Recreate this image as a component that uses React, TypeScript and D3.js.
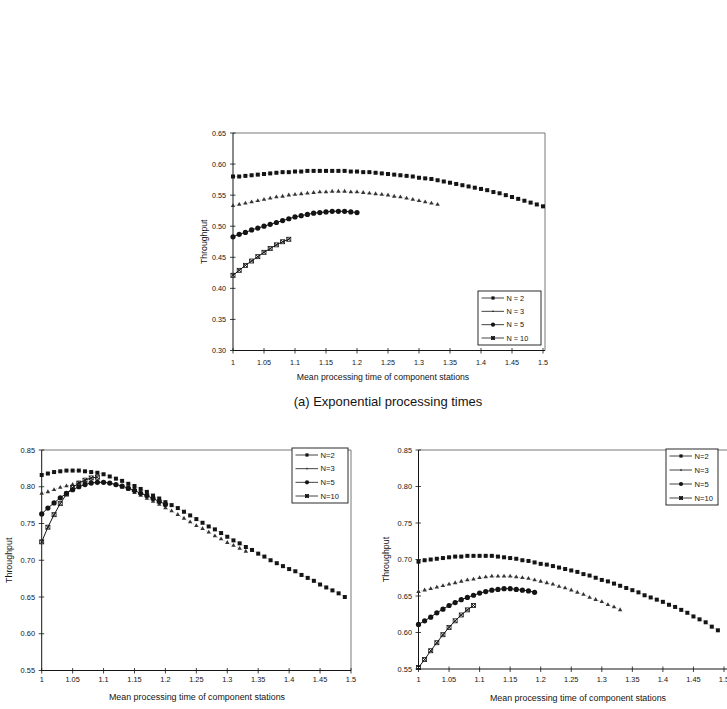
import React from 'react';
import * as d3 from 'd3';

// mean processing time of the component stations (x categories)
const meanTimes = [
  1.0, 1.01, 1.02, 1.03, 1.04, 1.05, 1.06, 1.07, 1.08, 1.09,
  1.1, 1.11, 1.12, 1.13, 1.14, 1.15, 1.16, 1.17, 1.18, 1.19,
  1.2, 1.21, 1.22, 1.23, 1.24, 1.25, 1.26, 1.27, 1.28, 1.29,
  1.3, 1.31, 1.32, 1.33, 1.34, 1.35, 1.36, 1.37, 1.38, 1.39,
  1.4, 1.41, 1.42, 1.43, 1.44, 1.45, 1.46, 1.47, 1.48, 1.49,
  1.5,
];
const xTicks = [1, 1.05, 1.1, 1.15, 1.2, 1.25, 1.3, 1.35, 1.4, 1.45, 1.5];
const expYTicks = [0.3, 0.35, 0.4, 0.45, 0.5, 0.55, 0.6, 0.65];
const lowerYTicks = [0.55, 0.6, 0.65, 0.7, 0.75, 0.8, 0.85];
const legendNamesA = ['N = 2', 'N = 3', 'N = 5', 'N = 10'];
const legendNamesB = ['N=2', 'N=3', 'N=5', 'N=10'];

// (a) exponential processing times
const expN2 = [
  0.58, 0.58, 0.581, 0.582, 0.583, 0.584, 0.585, 0.586, 0.587, 0.587,
  0.588, 0.588, 0.589, 0.589, 0.589, 0.589, 0.589, 0.589, 0.589, 0.588,
  0.588, 0.587, 0.587, 0.586, 0.585, 0.584, 0.583, 0.582, 0.581, 0.58,
  0.578, 0.577, 0.576, 0.574, 0.572, 0.57, 0.568, 0.566, 0.564, 0.562,
  0.56, 0.558, 0.555, 0.553, 0.55, 0.547, 0.544, 0.541, 0.538, 0.535,
  0.532,
];
const expN3 = [
  0.533, 0.535, 0.537, 0.539, 0.541, 0.543, 0.545, 0.547, 0.548, 0.55,
  0.551, 0.552, 0.553, 0.554, 0.555, 0.555, 0.556, 0.556, 0.556, 0.555,
  0.555, 0.554, 0.553, 0.552, 0.551, 0.55, 0.548, 0.547, 0.545, 0.543,
  0.541, 0.539, 0.537, 0.535,
];
const expN5 = [
  0.483, 0.487, 0.49, 0.494, 0.497, 0.5, 0.503, 0.506, 0.509, 0.512,
  0.515, 0.517, 0.519, 0.521, 0.522, 0.523, 0.524, 0.524, 0.524, 0.523,
  0.522,
];
const expN10 = [0.421, 0.429, 0.437, 0.444, 0.451, 0.458, 0.464, 0.47, 0.475, 0.479];

// lower left panel
const leftN2 = [
  0.816, 0.818, 0.82, 0.821, 0.822, 0.822, 0.822, 0.821, 0.82, 0.819,
  0.817, 0.814, 0.811, 0.808, 0.804, 0.801, 0.797, 0.793, 0.788, 0.784,
  0.779, 0.775, 0.771, 0.766, 0.761, 0.756, 0.751, 0.746, 0.742, 0.737,
  0.732, 0.727, 0.723, 0.718, 0.714, 0.709, 0.705, 0.7, 0.696, 0.692,
  0.688, 0.685, 0.68, 0.676, 0.672, 0.667, 0.663, 0.659, 0.655, 0.65,
];
const leftN3 = [
  0.791, 0.793, 0.796, 0.799, 0.801, 0.803, 0.805, 0.806, 0.807, 0.807,
  0.806, 0.804, 0.802, 0.799, 0.796, 0.792, 0.788, 0.784, 0.78, 0.776,
  0.771, 0.767, 0.762, 0.757, 0.752, 0.747, 0.743, 0.738, 0.733, 0.729,
  0.724, 0.72, 0.716, 0.712,
];
const leftN5 = [
  0.763, 0.771, 0.778, 0.785, 0.791, 0.796, 0.8, 0.803, 0.805, 0.806,
  0.806, 0.805, 0.803, 0.801, 0.798, 0.795, 0.791, 0.788, 0.784, 0.78,
  0.776,
];
const leftN10 = [0.725, 0.745, 0.762, 0.777, 0.79, 0.799, 0.805, 0.809, 0.812, 0.813];

// lower right panel
const rightN2 = [
  0.697, 0.699, 0.7, 0.701, 0.702, 0.703, 0.704, 0.704, 0.705, 0.705,
  0.705, 0.705, 0.705, 0.704, 0.703, 0.702, 0.701, 0.699, 0.698, 0.696,
  0.694, 0.693, 0.691, 0.689, 0.687, 0.685, 0.683, 0.68, 0.678, 0.675,
  0.672, 0.67, 0.667, 0.664, 0.661, 0.658, 0.655, 0.651, 0.648, 0.645,
  0.642, 0.638, 0.635, 0.631, 0.627, 0.622, 0.618, 0.614, 0.608, 0.603,
];
const rightN3 = [
  0.656, 0.658, 0.66, 0.662, 0.664, 0.666, 0.668, 0.67, 0.672, 0.673,
  0.675, 0.676, 0.677, 0.677, 0.677, 0.677, 0.676, 0.675, 0.674, 0.672,
  0.67, 0.668, 0.666, 0.663, 0.661, 0.658, 0.655, 0.652, 0.648, 0.645,
  0.642, 0.638, 0.635, 0.631,
];
const rightN5 = [
  0.611, 0.616, 0.621, 0.627, 0.632, 0.637, 0.641, 0.645, 0.648, 0.651,
  0.654, 0.656, 0.658, 0.659, 0.66, 0.66, 0.659, 0.658, 0.657, 0.655,
];
const rightN10 = [0.552, 0.563, 0.575, 0.586, 0.597, 0.607, 0.616, 0.624, 0.631, 0.637];

const FONT = '"Liberation Sans", Arial, Helvetica, sans-serif';
const INK = '#141414';

type Kind = 'square' | 'triangle' | 'circle' | 'cross';
const kinds: Kind[] = ['square', 'triangle', 'circle', 'cross'];

const lineStyle: Record<Kind, { stroke: string; width: number; dash?: string }> = {
  square: { stroke: '#b5b5b5', width: 0.5 },
  triangle: { stroke: '#8a8a8a', width: 0.6, dash: '1,1.5' },
  circle: { stroke: INK, width: 1 },
  cross: { stroke: INK, width: 1 },
};

function Marker({ kind, cx, cy, k = 1 }: { kind: Kind; cx: number; cy: number; k?: number }) {
  if (kind === 'square') {
    const s = 4 * k;
    return <rect x={cx - s / 2} y={cy - s / 2} width={s} height={s} fill={INK} />;
  }
  if (kind === 'triangle') {
    const d = d3.symbol(d3.symbolTriangle, 8.5 * k * k)() as string;
    return <path d={d} transform={`translate(${cx},${cy})`} fill="#333" />;
  }
  if (kind === 'circle') return <circle cx={cx} cy={cy} r={2.6 * k} fill={INK} />;
  const s = 2 * k;
  return (
    <g stroke={INK}>
      <rect x={cx - s} y={cy - s} width={2 * s} height={2 * s} fill="none" strokeWidth={0.8} />
      <path d={`M${cx - s},${cy - s}L${cx + s},${cy + s}M${cx - s},${cy + s}L${cx + s},${cy - s}`} strokeWidth={1} />
    </g>
  );
}

type PanelProps = {
  xPx: [number, number];
  yPx: [number, number];
  yDomain: [number, number];
  yTicks: number[];
  series: number[][];
  names: string[];
  frameRight: number;
  legend: { x: number; y: number; w: number; h: number };
  yLabelRight: number;
  yTitleX: number;
  xLabelBase: number;
  xTitleBase: number;
  xTitleCenter: number;
  tickSize: number;
  legendSize: number;
  titleSize: number;
};

function Panel(p: PanelProps) {
  const x = d3.scaleLinear([1, 1.5], p.xPx);
  const y = d3.scaleLinear(p.yDomain, p.yPx);
  const [left] = p.xPx;
  const [bottom, top] = p.yPx;
  const fmtY = d3.format('.2f');
  const line = d3
    .line<[number, number]>()
    .x((d) => x(d[0]))
    .y((d) => y(d[1]));
  const lg = p.legend;
  const step = (lg.h - 14) / 3;

  return (
    <g fontFamily={FONT} fill={INK}>
      {/* plot area border */}
      <path d={`M${left},${top}H${p.frameRight}V${bottom}`} fill="none" stroke="#555" strokeWidth={0.8} />
      <line x1={left} x2={left} y1={top} y2={bottom} stroke={INK} strokeWidth={1} />
      <line x1={left} x2={p.frameRight} y1={bottom} y2={bottom} stroke={INK} strokeWidth={1} />

      {p.yTicks.map((t) => (
        <g key={`y${t}`}>
          <line x1={left - 3} x2={left + 2.5} y1={y(t)} y2={y(t)} stroke={INK} strokeWidth={0.8} />
          <text x={p.yLabelRight} y={y(t) + p.tickSize * 0.36} fontSize={p.tickSize} textAnchor="end">
            {fmtY(t)}
          </text>
        </g>
      ))}
      {xTicks.map((t) => (
        <g key={`x${t}`}>
          <line x1={x(t)} x2={x(t)} y1={bottom - 2.5} y2={bottom + 3} stroke={INK} strokeWidth={0.8} />
          <text x={x(t)} y={p.xLabelBase} fontSize={p.tickSize} textAnchor="middle">
            {String(t)}
          </text>
        </g>
      ))}

      <text
        transform={`translate(${p.yTitleX},${(top + bottom) / 2}) rotate(-90)`}
        fontSize={p.titleSize}
        textAnchor="middle"
        dominantBaseline="middle"
      >
        Throughput
      </text>
      <text x={p.xTitleCenter} y={p.xTitleBase} fontSize={p.titleSize} textAnchor="middle">
        Mean processing time of component stations
      </text>

      {p.series.map((vals, si) => {
        const kind = kinds[si];
        const pts = vals.map((v, i) => [meanTimes[i], v] as [number, number]);
        const st = lineStyle[kind];
        return (
          <g key={si}>
            <path d={line(pts) ?? ''} fill="none" stroke={st.stroke} strokeWidth={st.width} strokeDasharray={st.dash} />
            {pts.map((d, i) => (
              <Marker key={i} kind={kind} cx={x(d[0])} cy={y(d[1])} />
            ))}
          </g>
        );
      })}

      {/* legend */}
      <rect x={lg.x} y={lg.y} width={lg.w} height={lg.h} fill="#fff" stroke={INK} strokeWidth={0.9} />
      {p.names.map((name, i) => {
        const ry = lg.y + 7 + i * step;
        const kind = kinds[i];
        return (
          <g key={name}>
            <line x1={lg.x + 3.5} x2={lg.x + 26} y1={ry} y2={ry} stroke={INK} strokeWidth={0.8} />
            <Marker kind={kind} cx={lg.x + 15} cy={ry} k={kind === 'triangle' ? 0.55 : 0.8} />
            <text x={lg.x + 28.5} y={ry + p.legendSize * 0.36} fontSize={p.legendSize}>
              {name}
            </text>
          </g>
        );
      })}
    </g>
  );
}

export default function App() {
  return (
    <svg
      width={727}
      height={709}
      viewBox="0 0 727 709"
      style={{ position: 'absolute', left: 0, top: 0, background: '#fff' }}
    >
      <rect width={727} height={709} fill="#fff" />
      <Panel
        xPx={[233, 543]}
        yPx={[350.5, 133]}
        yDomain={[0.3, 0.65]}
        yTicks={expYTicks}
        series={[expN2, expN3, expN5, expN10]}
        names={legendNamesA}
        frameRight={545}
        legend={{ x: 478, y: 291, w: 63, h: 54 }}
        yLabelRight={226}
        yTitleX={205}
        xLabelBase={365}
        xTitleBase={380}
        xTitleCenter={383}
        tickSize={7.2}
        legendSize={7.3}
        titleSize={8.7}
      />
      <text x={388} y={406} fontFamily={FONT} fontSize={13} textAnchor="middle" fill={INK}>
        (a) Exponential processing times
      </text>
      <Panel
        xPx={[41.7, 351]}
        yPx={[670.5, 450]}
        yDomain={[0.55, 0.85]}
        yTicks={lowerYTicks}
        series={[leftN2, leftN3, leftN5, leftN10]}
        names={legendNamesB}
        frameRight={351}
        legend={{ x: 292, y: 448, w: 56, h: 55 }}
        yLabelRight={35}
        yTitleX={10}
        xLabelBase={682}
        xTitleBase={700}
        xTitleCenter={197}
        tickSize={7.4}
        legendSize={7.6}
        titleSize={8.9}
      />
      <Panel
        xPx={[418.5, 724]}
        yPx={[669, 450]}
        yDomain={[0.55, 0.85]}
        yTicks={lowerYTicks}
        series={[rightN2, rightN3, rightN5, rightN10]}
        names={legendNamesB}
        frameRight={732}
        legend={{ x: 666, y: 449, w: 52, h: 56 }}
        yLabelRight={412}
        yTitleX={387}
        xLabelBase={682}
        xTitleBase={701}
        xTitleCenter={578}
        tickSize={7.4}
        legendSize={7.6}
        titleSize={8.9}
      />
    </svg>
  );
}
